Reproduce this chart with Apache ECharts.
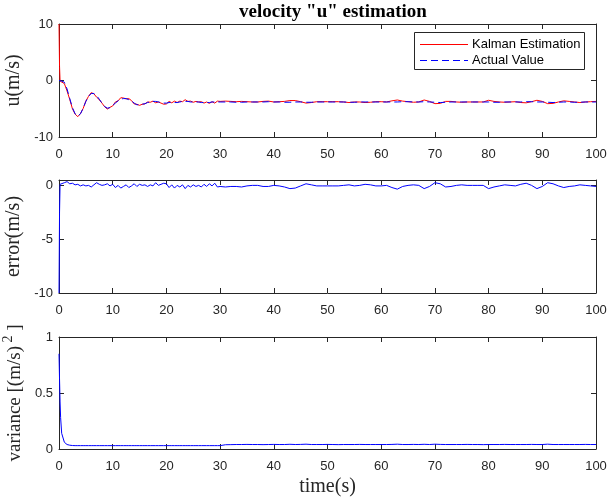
<!DOCTYPE html>
<html>
<head>
<meta charset="utf-8">
<script src="https://cdn.jsdelivr.net/npm/echarts@6/dist/echarts.min.js"></script>
<style>html,body{margin:0;padding:0;background:#fff;}#c{width:608px;height:500px;}</style>
</head>
<body>
<div id="c"></div>
<script>
// time samples (s)
const time = [0,0.1,0.2,0.3,0.5,
1,1.5,2,2.5,3,3.5,4,4.5,5,5.5,
6,6.5,7,7.5,8,8.5,9,9.5,10,10.5,
11,11.5,12,12.5,13,13.5,14,14.5,15,15.5,
16,16.5,17,17.5,18,18.5,19,19.5,20,20.5,
21,21.5,22,22.5,23,23.5,24,24.5,25,25.5,
26,26.5,27,27.5,28,28.5,29,29.5,30,
31,32,33,34,35,36,37,38,39,40,
41,42,43,44,45,46,47,48,49,50,
51,52,53,54,55,56,57,58,59,60,
61,62,63,64,65,66,67,68,69,70,
71,72,73,74,75,76,77,78,79,80,
81,82,83,84,85,86,87,88,89,90,
91,92,93,94,95,96,97,98,99,100];

// Kalman estimation of u (m/s)
const kalmanU = [10,2.5,-0.1,-0.2,-0.3,
-0.55,-1.85,-3.35,-5.0,-5.95,-6.4,-5.85,-4.95,-3.65,-2.8,
-2.15,-2.35,-2.95,-3.4,-4.0,-4.65,-5.05,-4.75,-4.5,-3.8,
-3.6,-3.05,-3.1,-3.25,-3.2,-3.55,-4.15,-4.2,-4.4,-4.2,
-4.15,-3.8,-3.85,-3.65,-3.95,-3.8,-4.0,-4.2,-4.15,-3.7,
-3.95,-3.65,-3.9,-3.65,-3.75,-3.4,-3.7,-3.65,-3.85,-3.7,
-3.8,-3.75,-4.0,-3.8,-4.05,-3.75,-4.0,-3.65,-3.7,
-3.65,-3.7,-3.75,-3.7,-3.75,-3.8,-3.8,-3.7,-3.65,-3.8,
-3.75,-3.7,-3.55,-3.55,-3.75,-4.0,-3.9,-3.75,-3.75,-3.75,
-3.75,-3.75,-3.8,-3.9,-3.8,-3.8,-3.9,-3.85,-3.75,-3.75,
-3.8,-3.6,-3.45,-3.65,-3.75,-3.85,-3.8,-3.45,-3.7,-4.1,
-4.05,-3.7,-3.7,-3.8,-3.85,-3.8,-3.8,-3.8,-3.8,-3.5,
-3.7,-3.8,-3.85,-3.8,-3.75,-3.9,-3.95,-3.75,-3.5,-3.7,
-4.1,-4.05,-3.8,-3.6,-3.7,-3.8,-3.9,-3.8,-3.75,-3.7];

// Actual value of u (m/s)
const actualU = [0,0,0,0,-0.1,
-0.3,-1.5,-3.2,-4.8,-5.9,-6.3,-5.9,-4.9,-3.7,-2.8,
-2.3,-2.3,-2.7,-3.3,-4.0,-4.6,-4.9,-4.8,-4.4,-4.0,
-3.6,-3.3,-3.2,-3.2,-3.4,-3.6,-4.0,-4.3,-4.3,-4.2,
-4.1,-3.9,-3.8,-3.7,-3.7,-3.8,-3.9,-4.0,-4.0,-3.9,
-3.9,-3.9,-3.9,-3.8,-3.7,-3.7,-3.7,-3.8,-3.8,-3.8,
-3.8,-3.9,-3.9,-3.9,-3.9,-3.8,-3.8,-3.8,-3.8,
-3.8,-3.8,-3.85,-3.85,-3.8,-3.8,-3.8,-3.8,-3.75,-3.8,
-3.8,-3.85,-3.85,-3.8,-3.8,-3.85,-3.85,-3.8,-3.8,-3.8,
-3.8,-3.8,-3.8,-3.85,-3.85,-3.8,-3.8,-3.8,-3.8,-3.8,
-3.8,-3.8,-3.8,-3.75,-3.75,-3.8,-3.8,-3.75,-3.8,-3.85,
-3.9,-3.85,-3.8,-3.8,-3.8,-3.8,-3.8,-3.8,-3.8,-3.8,
-3.85,-3.85,-3.8,-3.8,-3.8,-3.8,-3.75,-3.75,-3.8,-3.8,
-3.85,-3.9,-3.85,-3.8,-3.8,-3.85,-3.85,-3.8,-3.8,-3.8];

// estimation error (m/s)
const errorU = [-10,-2.5,0.1,0.2,0.2,
0.25,0.35,0.15,0.2,0.05,0.1,-0.05,0.05,-0.05,0.0,
-0.15,0.05,0.25,0.1,0.0,0.05,0.15,-0.05,0.1,-0.2,
0.0,-0.25,-0.1,0.05,-0.2,-0.05,0.15,-0.1,0.1,0.0,
0.05,-0.1,0.05,-0.05,0.25,0.0,0.1,0.2,0.15,-0.2,
0.05,-0.25,0.0,-0.15,0.05,-0.3,0.0,-0.15,0.05,-0.1,
0.0,-0.15,0.1,-0.1,0.15,-0.05,0.2,-0.15,-0.1,
-0.15,-0.1,-0.1,-0.15,-0.05,0.0,0.0,-0.1,-0.1,0.0,
-0.05,-0.15,-0.3,-0.25,-0.05,0.15,0.05,-0.05,-0.05,-0.05,
-0.05,-0.05,0.0,0.05,-0.05,0.0,0.1,0.05,-0.05,-0.05,
0.0,-0.2,-0.35,-0.1,0.0,0.05,0.0,-0.3,-0.1,0.25,
0.15,-0.15,-0.1,0.0,0.05,0.0,0.0,0.0,0.0,-0.3,
-0.15,-0.05,0.05,0.0,-0.05,0.1,0.2,0.0,-0.3,-0.1,
0.25,0.15,-0.05,-0.2,-0.1,-0.05,0.05,0.0,-0.05,-0.1];

// estimation variance ((m/s)^2)
const varianceU = [0.85,0.62,0.42,0.28,0.14,
0.06,0.04,0.034,0.031,0.03,0.03,0.03,0.03,0.03,0.03,
0.03,0.03,0.03,0.03,0.03,0.03,0.03,0.03,0.03,0.03,
0.03,0.03,0.03,0.03,0.03,0.03,0.03,0.03,0.03,0.03,
0.03,0.03,0.03,0.03,0.03,0.03,0.03,0.03,0.03,0.03,
0.03,0.03,0.03,0.03,0.03,0.03,0.03,0.03,0.03,0.03,
0.03,0.03,0.03,0.03,0.03,0.03,0.03,0.03,0.03,
0.038,0.039,0.04,0.04,0.041,0.04,0.04,0.039,0.04,0.041,
0.04,0.04,0.042,0.04,0.041,0.043,0.04,0.04,0.04,0.041,
0.04,0.039,0.04,0.04,0.04,0.041,0.04,0.04,0.04,0.04,
0.04,0.041,0.043,0.04,0.04,0.041,0.04,0.042,0.04,0.043,
0.041,0.04,0.04,0.04,0.04,0.041,0.04,0.04,0.039,0.04,
0.04,0.04,0.041,0.04,0.04,0.04,0.04,0.041,0.04,0.04,
0.043,0.04,0.04,0.04,0.04,0.04,0.04,0.041,0.04,0.04];

const legendNames = ['Kalman Estimation', 'Actual Value'];

const xTicks = {min: 0, max: 100, interval: 10};
const yRanges = [
  {min: -10, max: 10, interval: 10},
  {min: -10, max: 0.5, interval: 5},
  {min: 0, max: 1, interval: 0.5}
];

const pair = (ys) => time.map((t, i) => [t, ys[i]]);
const AX = '#262626';
const RED = '#ff0000';
const BLUE = '#0000ff';
const SANS = 'Liberation Sans, Arial, sans-serif';
const SERIF = 'Liberation Serif, Times New Roman, serif';

const grids = [
  {left: 59, right: 12, top: 24, height: 113, containLabel: false, outerBoundsMode: 'none'},
  {left: 59, right: 12, top: 180, height: 113, containLabel: false, outerBoundsMode: 'none'},
  {left: 59, right: 12, top: 337, height: 112, containLabel: false, outerBoundsMode: 'none'}
];

const baseAxis = (extra) => Object.assign({
  type: 'value',
  axisLine: {show: true, onZero: false, lineStyle: {color: AX, width: 1}},
  axisTick: {show: true, inside: true, length: 5, lineStyle: {color: AX}},
  axisLabel: {color: AX, fontFamily: SANS, fontSize: 13, margin: 6},
  splitLine: {show: false}
}, extra);

const xAxes = [];
const yAxes = [];
for (let g = 0; g < 3; g++) {
  xAxes.push(baseAxis(Object.assign({gridIndex: g, position: 'bottom',
    axisLabel: {color: AX, fontFamily: SANS, fontSize: 13, margin: 6, padding: [5, 0, 0, 0]}}, xTicks,
    g === 2 ? {name: 'time(s)', nameLocation: 'middle', nameGap: 28,
      nameTextStyle: {fontFamily: SERIF, fontSize: 20, color: AX}} : {})));
}
for (let g = 0; g < 3; g++) {
  xAxes.push(baseAxis(Object.assign({gridIndex: g, position: 'top', axisLabel: {show: false}}, xTicks)));
}
const yNames = ['u(m/s)', 'error(m/s)', '{a|variance [(m/s)}{s| 2}{a| ]}'];
for (let g = 0; g < 3; g++) {
  yAxes.push(baseAxis(Object.assign({gridIndex: g, position: 'left',
    name: yNames[g], nameLocation: 'middle', nameRotate: 90, nameGap: g === 2 ? 28 : 26,
    nameTextStyle: {fontFamily: SERIF, fontSize: 20, color: AX,
      rich: {a: {fontFamily: SERIF, fontSize: 19, color: AX, lineHeight: 26},
             s: {fontFamily: SERIF, fontSize: 14, color: AX, verticalAlign: 'top', lineHeight: 26}}}
  }, yRanges[g])));
}
for (let g = 0; g < 3; g++) {
  yAxes.push(baseAxis(Object.assign({gridIndex: g, position: 'right', axisLabel: {show: false}}, yRanges[g])));
}

// legend box drawn as graphic (MATLAB-style)
const LX = 414, LY = 32, LW = 170, LH = 37;
const legendGraphic = [
  {type: 'rect', left: LX, top: LY, shape: {width: LW, height: LH},
    style: {fill: '#fff', stroke: AX, lineWidth: 1}, z: 100},
  {type: 'line', shape: {x1: LX + 6, y1: LY + 12.5, x2: LX + 54, y2: LY + 12.5},
    style: {stroke: RED, lineWidth: 1}, z: 101},
  {type: 'line', shape: {x1: LX + 6, y1: LY + 28.5, x2: LX + 54, y2: LY + 28.5},
    style: {stroke: BLUE, lineWidth: 1, lineDash: [7, 4]}, z: 101},
  {type: 'text', x: LX + 58, y: LY + 12, style: {text: legendNames[0], fill: '#000',
    font: '13px ' + SANS, textVerticalAlign: 'middle', verticalAlign: 'middle'}, z: 101},
  {type: 'text', x: LX + 58, y: LY + 28, style: {text: legendNames[1], fill: '#000',
    font: '13px ' + SANS, textVerticalAlign: 'middle', verticalAlign: 'middle'}, z: 101}
];

const chart = echarts.init(document.getElementById('c'), null, {renderer: 'canvas'});
chart.setOption({
  animation: false,
  backgroundColor: '#fff',
  title: {text: 'velocity "u" estimation', left: 328, top: -2, textAlign: 'center',
    textStyle: {fontFamily: SERIF, fontWeight: 'bold', fontSize: 19, color: '#000'}},
  graphic: legendGraphic,
  grid: grids,
  xAxis: xAxes,
  yAxis: yAxes,
  series: [
    {name: legendNames[0], type: 'line', xAxisIndex: 0, yAxisIndex: 0, data: pair(kalmanU), color: RED,
      showSymbol: false, symbol: 'none', lineStyle: {color: RED, width: 1}},
    {name: legendNames[1], type: 'line', xAxisIndex: 0, yAxisIndex: 0, data: pair(actualU), color: BLUE,
      showSymbol: false, symbol: 'none', lineStyle: {color: BLUE, width: 1, type: [7, 4]}},
    {name: 'error', type: 'line', xAxisIndex: 1, yAxisIndex: 1, data: pair(errorU), color: BLUE,
      showSymbol: false, symbol: 'none', lineStyle: {color: BLUE, width: 1}},
    {name: 'variance', type: 'line', xAxisIndex: 2, yAxisIndex: 2, data: pair(varianceU), color: BLUE,
      showSymbol: false, symbol: 'none', lineStyle: {color: BLUE, width: 1}}
  ]
});
</script>
</body>
</html>
